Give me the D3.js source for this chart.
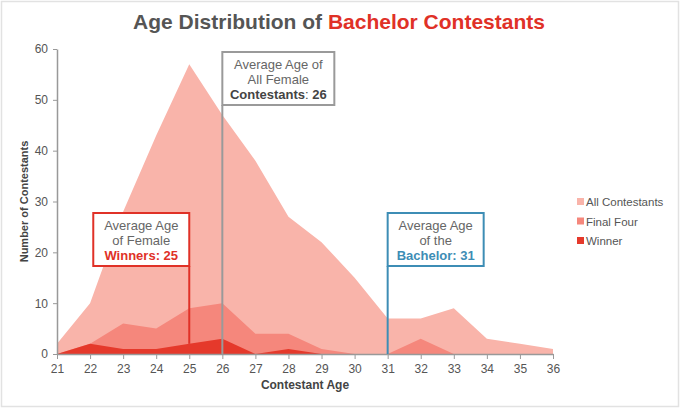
<!DOCTYPE html>
<html>
<head>
<meta charset="utf-8">
<script src="https://cdn.jsdelivr.net/npm/d3@7"></script>
<style>
  body { margin: 0; background: #fff; }
  svg { font-family: "Liberation Sans", Arial, sans-serif; }
</style>
</head>
<body>
<svg id="chart" width="680" height="410"></svg>
<script>
// ages on the x axis
const ages = [21, 22, 23, 24, 25, 26, 27, 28, 29, 30, 31, 32, 33, 34, 35, 36];
// number of contestants at each age
const allContestants = [2, 10, 28, 43, 57, 47, 38, 27, 22, 15, 7, 7, 9, 3, 2, 1];
const finalFour = [0, 2, 6, 5, 9, 10, 4, 4, 1, 0, 0, 3, 0, 0, 0, 0];
const winners = [0, 2, 1, 1, 2, 3, 0, 1, 0, 0, 0, 0, 0, 0, 0, 0];
const yTicks = [0, 10, 20, 30, 40, 50, 60];

const seriesNames = ['All Contestants', 'Final Four', 'Winner'];
const seriesValues = [allContestants, finalFour, winners];
const seriesColors = ['#f9b4aa', '#f5877c', '#e5392b'];

// annotation callouts: age, label lines, highlight colour
const notes = [
  { age: 26, lines: ['Average Age of', 'All Female'], bold: 'Contestants', value: 26, color: '#9a9a9a', boldColor: '#444' },
  { age: 25, lines: ['Average Age', 'of Female'], bold: 'Winners', value: 25, color: '#e03127', boldColor: '#e03127' },
  { age: 31, lines: ['Average Age', 'of the'], bold: 'Bachelor', value: 31, color: '#3d8db5', boldColor: '#3d8db5' }
];

const svg = d3.select('#chart');
const x = d3.scaleLinear().domain([21, 36]).range([57, 553]);
const y = d3.scaleLinear().domain([0, 60]).range([354, 49]);

// frame
svg.append('rect')
  .attr('x', 1.5).attr('y', 1.5).attr('width', 677).attr('height', 405)
  .attr('fill', '#fff').attr('stroke', '#e2e2e2').attr('stroke-width', 1.5);

// title
const title = svg.append('text')
  .attr('x', 339).attr('y', 29)
  .attr('text-anchor', 'middle')
  .attr('font-size', 21).attr('font-weight', 'bold');
title.append('tspan').attr('fill', '#555').text('Age Distribution of ');
title.append('tspan').attr('fill', '#e03127').text('Bachelor Contestants');

// areas
const area = d3.area()
  .x((d, i) => x(ages[i]))
  .y0(y(0))
  .y1(d => y(d));

svg.append('g').selectAll('path')
  .data(seriesValues)
  .join('path')
  .attr('d', area)
  .attr('fill', (d, i) => seriesColors[i]);

// axes
const xAxis = svg.append('g')
  .attr('transform', `translate(0,${y(0)})`)
  .call(d3.axisBottom(x).tickValues(ages).tickFormat(d3.format('d')).tickSize(5).tickSizeOuter(0));
const yAxis = svg.append('g')
  .attr('transform', `translate(${x(21)},0)`)
  .call(d3.axisLeft(y).tickValues(yTicks).tickSize(4).tickSizeOuter(0));

[xAxis, yAxis].forEach(g => {
  g.select('.domain').attr('stroke', '#999').attr('stroke-width', 1.5);
  g.selectAll('.tick line').attr('stroke', '#999');
  g.selectAll('.tick text')
    .attr('fill', '#555').attr('font-size', 12)
    .attr('font-family', '"Liberation Sans Narrow", "Liberation Sans", Arial, sans-serif');
});
xAxis.selectAll('.tick text').attr('dy', '0.9em');
yAxis.selectAll('.tick text').attr('dx', '-2');

// axis titles
svg.append('text')
  .attr('x', x(28.5)).attr('y', 389)
  .attr('text-anchor', 'middle')
  .attr('font-size', 12).attr('font-weight', 'bold').attr('fill', '#444')
  .text('Contestant Age');
svg.append('text')
  .attr('transform', `translate(28,${y(30)}) rotate(-90)`)
  .attr('text-anchor', 'middle')
  .attr('font-size', 11).attr('font-weight', 'bold').attr('fill', '#444')
  .text('Number of Contestants');

// callouts
const boxW = [112, 96, 96];
const boxTop = [52, 213, 213];
const boxH = 53;
notes.forEach((n, i) => {
  const lx = x(n.age);
  const left = i === 1 ? lx - boxW[i] : lx;
  const endY = i === 1 ? y(winners[ages.indexOf(n.age)]) : y(0);
  const g = svg.append('g');
  g.append('line')
    .attr('x1', lx).attr('x2', lx)
    .attr('y1', boxTop[i] + boxH).attr('y2', endY)
    .attr('stroke', n.color).attr('stroke-width', 2);
  g.append('rect')
    .attr('x', left).attr('y', boxTop[i])
    .attr('width', boxW[i]).attr('height', boxH)
    .attr('fill', '#fff').attr('stroke', n.color).attr('stroke-width', 2);
  const cx = left + boxW[i] / 2;
  n.lines.forEach((t, j) => {
    g.append('text')
      .attr('x', cx).attr('y', boxTop[i] + 17 + j * 15)
      .attr('text-anchor', 'middle')
      .attr('font-size', 13).attr('fill', '#666')
      .text(t);
  });
  const last = g.append('text')
    .attr('x', cx).attr('y', boxTop[i] + 47)
    .attr('text-anchor', 'middle')
    .attr('font-size', 13).attr('font-weight', 'bold').attr('fill', n.boldColor);
  last.append('tspan').text(n.bold);
  last.append('tspan').attr('font-weight', i === 0 ? 'normal' : 'bold').text(': ');
  last.append('tspan').text(n.value);
});

// legend
const legend = svg.append('g').attr('transform', 'translate(577,202)');
seriesNames.forEach((name, i) => {
  const row = legend.append('g').attr('transform', `translate(0,${i * 19.5})`);
  row.append('rect')
    .attr('x', 0).attr('y', -4).attr('width', 7).attr('height', 7)
    .attr('fill', seriesColors[i]);
  row.append('text')
    .attr('x', 9).attr('y', 4)
    .attr('font-size', 11.5).attr('fill', '#555')
    .text(name);
});
</script>
</body>
</html>
